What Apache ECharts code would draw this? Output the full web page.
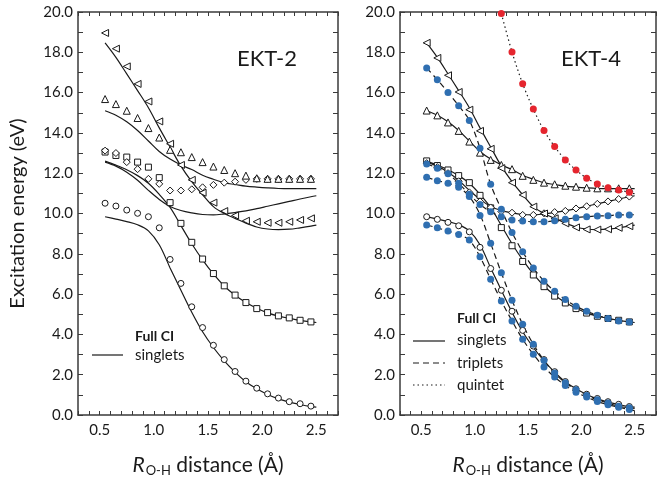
<!DOCTYPE html>
<html>
<head>
<meta charset="utf-8">
<script src="https://cdn.jsdelivr.net/npm/echarts@6/dist/echarts.min.js"></script>
<style>
  html, body { margin: 0; padding: 0; background: #fff; }
  #chart { width: 659px; height: 483px; }
</style>
</head>
<body>
<div id="chart"></div>
<script>
// O-H distances (Å) of the computed points, and of the Full CI curves (which run on to 2.5 Å)
const rPoints = [0.55, 0.65, 0.75, 0.85, 0.95, 1.05, 1.15, 1.25, 1.35, 1.45, 1.55, 1.65, 1.75, 1.85, 1.95, 2.05, 2.15, 2.25, 2.35, 2.45];
const rCurve  = [0.55, 0.65, 0.75, 0.85, 0.95, 1.05, 1.15, 1.25, 1.35, 1.45, 1.55, 1.65, 1.75, 1.85, 1.95, 2.05, 2.15, 2.25, 2.35, 2.45, 2.5];
const rQuintetPoints = [1.25, 1.35, 1.45, 1.55, 1.65, 1.75, 1.85, 1.95, 2.05, 2.15, 2.25, 2.35, 2.45];
const rQuintetCurve  = [1.25, 1.35, 1.45, 1.55, 1.65, 1.75, 1.85, 1.95, 2.05, 2.15, 2.25, 2.35, 2.45, 2.5];

// Full CI singlet excitation energies (eV)
const fciSinglet1 = [9.84, 9.72, 9.60, 9.44, 9.14, 8.45, 7.30, 6.19, 5.10, 4.13, 3.35, 2.69, 2.13, 1.65, 1.30, 1.02, 0.80, 0.64, 0.52, 0.42, 0.39];
const fciSinglet2 = [12.60, 12.40, 12.17, 11.88, 11.50, 10.95, 10.30, 9.40, 8.50, 7.70, 7.00, 6.40, 5.94, 5.58, 5.30, 5.07, 4.91, 4.80, 4.70, 4.62, 4.59];
const fciSinglet3 = [12.55, 12.35, 12.05, 11.65, 11.15, 10.70, 10.35, 10.15, 10.03, 9.95, 9.93, 9.98, 10.05, 10.13, 10.24, 10.36, 10.48, 10.60, 10.72, 10.83, 10.88];
const fciSinglet4 = [15.10, 14.88, 14.55, 14.12, 13.60, 13.08, 12.70, 12.41, 12.18, 11.90, 11.70, 11.52, 11.44, 11.36, 11.31, 11.27, 11.24, 11.23, 11.23, 11.23, 11.23];
const fciSinglet5 = [18.47, 17.75, 16.93, 16.10, 15.25, 14.25, 13.30, 12.35, 11.58, 10.93, 10.34, 10.00, 9.76, 9.52, 9.33, 9.23, 9.20, 9.22, 9.29, 9.37, 9.42];

// Full CI triplet and quintet curves
const fciTriplet1 = [9.43, 9.29, 9.13, 8.96, 8.68, 7.85, 6.74, 5.66, 4.67, 3.76, 3.01, 2.38, 1.88, 1.47, 1.13, 0.89, 0.67, 0.51, 0.39, 0.27, 0.22];
const fciTriplet2 = [11.80, 11.63, 11.50, 11.30, 10.84, 9.95, 8.52, 7.06, 5.70, 4.50, 3.51, 2.71, 2.08, 1.60, 1.25, 0.97, 0.76, 0.59, 0.44, 0.36, 0.33];
const fciTriplet3 = [12.46, 12.25, 11.97, 11.50, 10.95, 10.45, 10.09, 9.84, 9.68, 9.63, 9.59, 9.59, 9.64, 9.71, 9.79, 9.84, 9.88, 9.89, 9.93, 9.93, 9.94];
const fciTriplet4 = [17.22, 16.64, 16.01, 15.35, 14.62, 13.24, 11.45, 10.21, 9.06, 8.10, 7.30, 6.64, 6.14, 5.73, 5.40, 5.15, 4.95, 4.79, 4.67, 4.62, 4.60];
const fciQuintet  = [19.93, 18.02, 16.44, 15.18, 14.12, 13.32, 12.66, 12.16, 11.75, 11.47, 11.28, 11.17, 11.05, 10.98];

// EKT-2 singlet excitation energies
const ekt2Singlet1 = [10.51, 10.37, 10.17, 10.01, 9.84, 9.29, 7.72, 6.53, 5.37, 4.34, 3.46, 2.75, 2.16, 1.68, 1.33, 1.05, 0.84, 0.66, 0.56, 0.44];
const ekt2Singlet2 = [13.05, 12.88, 12.80, 12.55, 12.30, 11.78, 10.54, 9.51, 8.57, 7.74, 7.02, 6.41, 5.95, 5.58, 5.28, 5.08, 4.92, 4.82, 4.70, 4.62];
const ekt2Singlet3 = [13.12, 13.00, 12.55, 12.20, 11.72, 11.47, 11.14, 11.14, 11.20, 11.30, 11.42, 11.53, 11.58, 11.67, 11.72, 11.72, 11.72, 11.72, 11.72, 11.72];
const ekt2Singlet4 = [15.68, 15.43, 15.10, 14.74, 14.24, 13.77, 13.16, 13.04, 12.80, 12.55, 12.33, 12.16, 12.00, 11.88, 11.75, 11.72, 11.72, 11.72, 11.72, 11.72];
const ekt2Singlet5 = [18.96, 18.18, 17.30, 16.43, 15.56, 14.57, 13.46, 12.41, 11.67, 11.03, 10.54, 10.12, 9.90, 9.64, 9.59, 9.54, 9.54, 9.59, 9.68, 9.76];

// EKT-4 singlet, triplet and quintet excitation energies
const ekt4Singlet1 = [9.84, 9.71, 9.56, 9.39, 9.09, 8.32, 7.27, 6.19, 5.15, 4.20, 3.42, 2.75, 2.15, 1.66, 1.30, 1.03, 0.82, 0.66, 0.53, 0.42];
const ekt4Singlet2 = [12.61, 12.38, 12.16, 11.88, 11.53, 10.90, 10.28, 9.30, 8.40, 7.62, 6.95, 6.37, 5.90, 5.56, 5.28, 5.06, 4.90, 4.79, 4.70, 4.62];
const ekt4Singlet3 = [12.50, 12.30, 12.00, 11.60, 11.05, 10.60, 10.30, 10.10, 10.04, 9.93, 9.93, 10.01, 10.07, 10.13, 10.25, 10.36, 10.48, 10.60, 10.72, 10.84];
const ekt4Singlet4 = [15.11, 14.87, 14.52, 14.10, 13.57, 13.02, 12.66, 12.41, 12.20, 11.87, 11.67, 11.53, 11.45, 11.38, 11.33, 11.28, 11.25, 11.25, 11.25, 11.25];
const ekt4Singlet5 = [18.47, 17.72, 16.86, 16.03, 15.15, 14.10, 13.21, 12.25, 11.53, 10.92, 10.34, 10.00, 9.76, 9.51, 9.31, 9.21, 9.20, 9.22, 9.29, 9.37];
const ekt4Triplet1 = [9.43, 9.29, 9.13, 8.96, 8.68, 7.85, 6.74, 5.66, 4.67, 3.76, 3.01, 2.38, 1.88, 1.47, 1.13, 0.89, 0.67, 0.51, 0.39, 0.27];
const ekt4Triplet2 = [11.80, 11.63, 11.50, 11.30, 10.84, 9.90, 8.52, 7.06, 5.70, 4.50, 3.51, 2.71, 2.08, 1.60, 1.25, 0.97, 0.76, 0.59, 0.44, 0.36];
const ekt4Triplet3 = [12.46, 12.25, 11.97, 11.50, 10.95, 10.45, 10.09, 9.84, 9.68, 9.63, 9.59, 9.59, 9.64, 9.71, 9.79, 9.84, 9.88, 9.89, 9.93, 9.93];
const ekt4Triplet4 = [17.22, 16.64, 16.01, 15.35, 14.62, 13.24, 11.45, 10.21, 9.06, 8.10, 7.30, 6.64, 6.14, 5.73, 5.40, 5.15, 4.95, 4.79, 4.67, 4.62];
const ekt4Quintet  = [19.93, 18.02, 16.44, 15.18, 14.12, 13.32, 12.66, 12.16, 11.75, 11.47, 11.28, 11.17, 11.05];

// Axis ranges
const rMin = 0.3, rMax = 2.7, rStep = 0.1;
const eMin = 0, eMax = 20, eStep = 1;

const FONT = 'Lato';
const INK = '#1a1a1a';
const FRAME = '#3a3a3a';
const BLUE = '#2f6fb1';
const RED = '#e5252e';

const pairs = (xs, ys) => xs.map((x, i) => [x, ys[i]]);

function xLabel(v) {
  const k = Math.round(v * 10);
  return k % 5 === 0 ? (k / 10).toFixed(1) : '';
}
function yLabel(v) {
  const k = Math.round(v);
  return k % 2 === 0 ? k.toFixed(1) : '';
}

const axisLine = { show: true, onZero: false, lineStyle: { color: FRAME, width: 1.5 } };

function xAxes(gridIndex) {
  const base = {
    type: 'value', gridIndex, min: rMin, max: rMax, interval: rStep,
    axisLine, splitLine: { show: false },
    axisTick: { show: true, inside: true, length: 4, lineStyle: { color: FRAME, width: 1 } }
  };
  return [
    Object.assign({}, base, {
      position: 'bottom',
      axisLabel: { formatter: xLabel, fontFamily: FONT, fontSize: 15, color: INK, margin: 8, showMinLabel: true, showMaxLabel: true },
      name: '{r|R}{s|O-H}{t| distance (Å)}',
      nameLocation: 'middle', nameGap: 40,
      nameTextStyle: {
        color: INK,
        rich: {
          r: { fontFamily: FONT, fontSize: 21, fontStyle: 'italic', color: INK, lineHeight: 22, verticalAlign: 'top' },
          s: { fontFamily: FONT, fontSize: 13, color: INK, lineHeight: 14, verticalAlign: 'bottom', padding: [13, 0, 0, 1] },
          t: { fontFamily: FONT, fontSize: 21, color: INK, lineHeight: 22, verticalAlign: 'top' }
        }
      }
    }),
    Object.assign({}, base, { position: 'top', axisLabel: { show: false } })
  ];
}

function yAxes(gridIndex, withName) {
  const base = {
    type: 'value', gridIndex, min: eMin, max: eMax, interval: eStep,
    axisLine, splitLine: { show: false },
    axisTick: { show: true, inside: true, length: 5, lineStyle: { color: FRAME, width: 1 } }
  };
  const left = Object.assign({}, base, {
    position: 'left',
    axisLabel: { formatter: yLabel, fontFamily: FONT, fontSize: 15, color: INK, margin: 5 }
  });
  if (withName) {
    Object.assign(left, {
      name: 'Excitation energy (eV)', nameLocation: 'middle', nameGap: 50, nameRotate: 90,
      nameTextStyle: { fontFamily: FONT, fontSize: 20, color: INK }
    });
  }
  return [left, Object.assign({}, base, { position: 'right', axisLabel: { show: false } })];
}

function curve(axis, xs, ys, dash) {
  return {
    type: 'line', xAxisIndex: axis, yAxisIndex: axis, data: pairs(xs, ys),
    symbol: 'none', showSymbol: false, smooth: 0.35, silent: true, z: 2,
    lineStyle: { color: INK, width: 1.2, type: dash || 'solid' }
  };
}

function openMarks(axis, ys, symbol, size, rotate) {
  return {
    type: 'scatter', xAxisIndex: axis, yAxisIndex: axis, data: pairs(rPoints, ys),
    symbol, symbolSize: size, symbolRotate: rotate || 0, silent: true, z: 3,
    itemStyle: { color: '#ffffff', borderColor: INK, borderWidth: 1, opacity: 1 }
  };
}

function filledMarks(axis, xs, ys, color) {
  return {
    type: 'scatter', xAxisIndex: axis, yAxisIndex: axis, data: pairs(xs, ys),
    symbol: 'circle', symbolSize: 7, silent: true, z: 4,
    itemStyle: { color, borderWidth: 0, opacity: 1 }
  };
}

const L = 0, R = 2; // axis indices of the left (EKT-2) and right (EKT-4) panels
const TRIPLET_DASH = [6, 4];
const QUINTET_DOT = [1.5, 3];

const series = [
  // EKT-2 panel
  curve(L, rCurve, fciSinglet1), curve(L, rCurve, fciSinglet2), curve(L, rCurve, fciSinglet3),
  curve(L, rCurve, fciSinglet4), curve(L, rCurve, fciSinglet5),
  openMarks(L, ekt2Singlet1, 'circle', 6),
  openMarks(L, ekt2Singlet2, 'rect', 6),
  openMarks(L, ekt2Singlet3, 'diamond', 7),
  openMarks(L, ekt2Singlet4, 'triangle', 7),
  openMarks(L, ekt2Singlet5, 'triangle', 7, 90),

  // EKT-4 panel
  curve(R, rCurve, fciSinglet1), curve(R, rCurve, fciSinglet2), curve(R, rCurve, fciSinglet3),
  curve(R, rCurve, fciSinglet4), curve(R, rCurve, fciSinglet5),
  curve(R, rCurve, fciTriplet1, TRIPLET_DASH), curve(R, rCurve, fciTriplet2, TRIPLET_DASH),
  curve(R, rCurve, fciTriplet3, TRIPLET_DASH), curve(R, rCurve, fciTriplet4, TRIPLET_DASH),
  curve(R, rQuintetCurve, fciQuintet, QUINTET_DOT),
  openMarks(R, ekt4Singlet1, 'circle', 6),
  openMarks(R, ekt4Singlet2, 'rect', 6),
  openMarks(R, ekt4Singlet3, 'diamond', 7),
  openMarks(R, ekt4Singlet4, 'triangle', 7),
  openMarks(R, ekt4Singlet5, 'triangle', 7, 90),
  filledMarks(R, rPoints, ekt4Triplet1, BLUE),
  filledMarks(R, rPoints, ekt4Triplet2, BLUE),
  filledMarks(R, rPoints, ekt4Triplet3, BLUE),
  filledMarks(R, rPoints, ekt4Triplet4, BLUE),
  filledMarks(R, rQuintetPoints, ekt4Quintet, RED)
];

function label(x, y, text, font) {
  return {
    type: 'text', x, y, silent: true, z: 10,
    style: { text, font, fill: INK, textAlign: 'left', textVerticalAlign: 'middle', align: 'left', verticalAlign: 'middle' }
  };
}
function keyLine(x1, x2, y, dash) {
  return {
    type: 'line', silent: true, z: 10,
    shape: { x1, y1: y, x2, y2: y },
    style: { stroke: INK, lineWidth: 1.2, lineDash: dash || null }
  };
}

const graphic = [
  { type: 'text', x: 267, y: 59, silent: true, z: 10,
    style: { text: 'EKT-2', font: '22px ' + FONT, fill: INK, textAlign: 'center', textVerticalAlign: 'middle', align: 'center', verticalAlign: 'middle' } },
  { type: 'text', x: 591, y: 59, silent: true, z: 10,
    style: { text: 'EKT-4', font: '22px ' + FONT, fill: INK, textAlign: 'center', textVerticalAlign: 'middle', align: 'center', verticalAlign: 'middle' } },

  label(135, 336, 'Full CI', 'bold 14px ' + FONT),
  keyLine(92, 123, 355),
  label(135, 355, 'singlets', '15px ' + FONT),

  label(457, 318, 'Full CI', 'bold 14px ' + FONT),
  keyLine(413, 445, 341),
  label(457, 340, 'singlets', '15px ' + FONT),
  keyLine(413, 445, 363, TRIPLET_DASH),
  label(457, 363, 'triplets', '15px ' + FONT),
  keyLine(413, 445, 385, QUINTET_DOT),
  label(457, 385, 'quintet', '15px ' + FONT)
];

const chart = echarts.init(document.getElementById('chart'), null, { renderer: 'canvas' });
chart.setOption({
  animation: false,
  backgroundColor: '#ffffff',
  textStyle: { fontFamily: FONT },
  grid: [
    { left: 78, top: 12, width: 260, height: 403 },
    { left: 400, top: 12, width: 258, height: 403 }
  ],
  xAxis: xAxes(0).concat(xAxes(1)),
  yAxis: yAxes(0, true).concat(yAxes(1, false)),
  series,
  graphic
});
</script>
</body>
</html>
